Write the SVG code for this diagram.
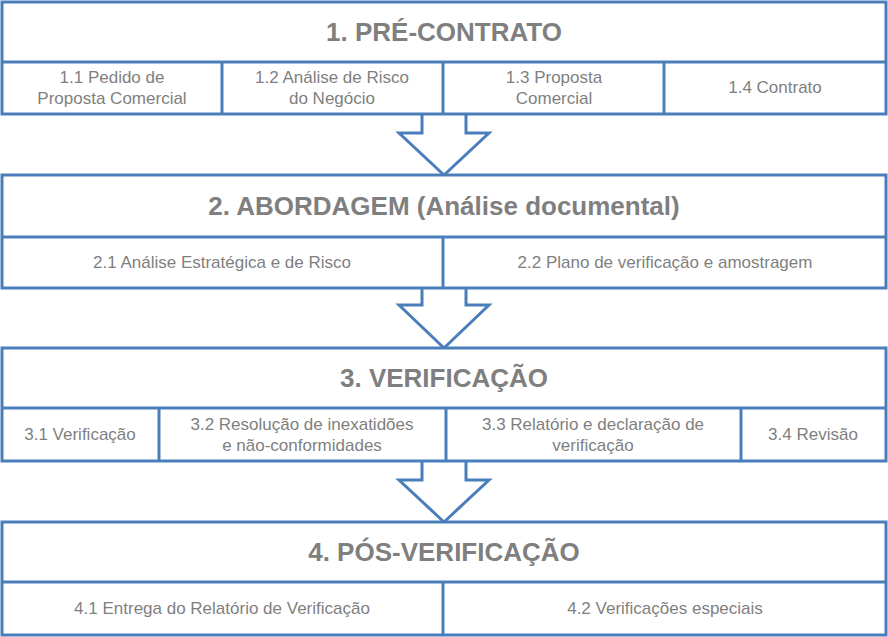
<svg xmlns="http://www.w3.org/2000/svg" width="888" height="637" viewBox="0 0 888 637">
<style>
rect,line,path{fill:#fff;stroke:#4A7EBB;stroke-width:3}
text{font-family:"Liberation Sans",Arial,sans-serif;fill:#7F7F7F;text-anchor:middle}
.h{font-size:26px;font-weight:bold}
.s{font-size:17px}
</style>
<rect x="0" y="0" width="888" height="637" style="stroke:none"/>
<g id="connectors">
<path d="M422,114 V133 H399 L444,175 L489,133 H466 V114"/>
<path d="M422,288 V305 H399 L444,348 L489,305 H466 V288"/>
<path d="M422,461 V480 H399 L444,522 L489,480 H466 V461"/>
</g>
<g id="n1">
<rect x="2" y="2" width="884" height="112"/>
<line x1="2" y1="62" x2="886" y2="62"/>
<line x1="222" y1="62" x2="222" y2="114"/>
<line x1="443" y1="62" x2="443" y2="114"/>
<line x1="664" y1="62" x2="664" y2="114"/>
<text class="h" x="444" y="41">1. PRÉ-CONTRATO</text>
<text class="s" x="112" y="83">1.1 Pedido de</text>
<text class="s" x="112" y="104">Proposta Comercial</text>
<text class="s" x="332" y="83">1.2 Análise de Risco</text>
<text class="s" x="332" y="104">do Negócio</text>
<text class="s" x="554" y="83">1.3 Proposta</text>
<text class="s" x="554" y="104">Comercial</text>
<text class="s" x="775" y="93">1.4 Contrato</text>
</g>
<g id="n2">
<rect x="2" y="175" width="884" height="113"/>
<line x1="2" y1="237" x2="886" y2="237"/>
<line x1="443" y1="237" x2="443" y2="288"/>
<text class="h" x="444" y="215">2. ABORDAGEM (Análise documental)</text>
<text class="s" x="222" y="268">2.1 Análise Estratégica e de Risco</text>
<text class="s" x="665" y="268">2.2 Plano de verificação e amostragem</text>
</g>
<g id="n3">
<rect x="2" y="348" width="884" height="113"/>
<line x1="2" y1="408" x2="886" y2="408"/>
<line x1="159" y1="408" x2="159" y2="461"/>
<line x1="446" y1="408" x2="446" y2="461"/>
<line x1="741" y1="408" x2="741" y2="461"/>
<text class="h" x="444" y="387">3. VERIFICAÇÃO</text>
<text class="s" x="80" y="440">3.1 Verificação</text>
<text class="s" x="302" y="430">3.2 Resolução de inexatidões</text>
<text class="s" x="302" y="451">e não-conformidades</text>
<text class="s" x="593" y="430">3.3 Relatório e declaração  de</text>
<text class="s" x="593" y="451">verificação</text>
<text class="s" x="813" y="440">3.4 Revisão</text>
</g>
<g id="n4">
<rect x="2" y="522" width="884" height="113"/>
<line x1="2" y1="582" x2="886" y2="582"/>
<line x1="443" y1="582" x2="443" y2="635"/>
<text class="h" x="444" y="561">4. PÓS-VERIFICAÇÃO</text>
<text class="s" x="222" y="614">4.1 Entrega do Relatório de Verificação</text>
<text class="s" x="665" y="614">4.2 Verificações especiais</text>
</g>
</svg>
